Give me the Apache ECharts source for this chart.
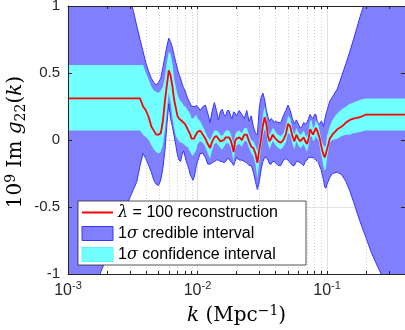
<!DOCTYPE html>
<html>
<head>
<meta charset="utf-8">
<title>Im g22 reconstruction</title>
<script src="https://cdn.jsdelivr.net/npm/echarts@6/dist/echarts.min.js"></script>
<style>
html, body { margin: 0; padding: 0; background: #fff; }
#main { width: 405px; height: 330px; }
</style>
</head>
<body>
<div id="main"></div>
<script type="text/javascript">
// k (Mpc^-1)
var kVals = [
    0.001, 0.0015, 0.0018, 0.002, 0.0025, 0.003, 0.0032, 0.0034, 0.0036,
    0.0038, 0.004, 0.0042, 0.0044, 0.0046, 0.0048, 0.005, 0.0052, 0.0054, 0.0056, 0.0058,
    0.006, 0.0062, 0.0064, 0.0066, 0.0068, 0.007, 0.0072, 0.0074, 0.0076, 0.0078,
    0.008, 0.0082, 0.0084, 0.0086, 0.0088, 0.009, 0.0092, 0.0094, 0.0096, 0.0098,
    0.01, 0.0105, 0.011, 0.0115, 0.012, 0.0125, 0.013, 0.0135, 0.014, 0.0145,
    0.015, 0.0155, 0.016, 0.0165, 0.017, 0.0175, 0.018, 0.0185, 0.019, 0.0195,
    0.02, 0.021, 0.022, 0.023, 0.024, 0.025, 0.026, 0.027, 0.028, 0.029,
    0.03, 0.031, 0.032, 0.033, 0.034, 0.035, 0.036, 0.037, 0.038, 0.039,
    0.04, 0.042, 0.044, 0.046, 0.048, 0.05, 0.052, 0.054, 0.056, 0.058,
    0.06, 0.062, 0.064, 0.066, 0.068, 0.07, 0.072, 0.074, 0.076, 0.078,
    0.08, 0.082, 0.084, 0.086, 0.088, 0.09, 0.092, 0.094, 0.096, 0.098, 0.1,
    0.105, 0.11, 0.12, 0.13, 0.14, 0.15, 0.16, 0.18, 0.2, 0.22, 0.25, 0.3, 0.35, 0.4
];
// lambda = 100 reconstruction
var recon = [
    0.31, 0.31, 0.31, 0.31, 0.31, 0.31, 0.31, 0.31, 0.31,
    0.25, 0.22, 0.17, 0.10, 0.07, 0.04, 0.04, 0.05, 0.14, 0.29, 0.41,
    0.52, 0.48, 0.40, 0.30, 0.24, 0.18, 0.16, 0.15, 0.14, 0.13,
    0.12, 0.10, 0.08, 0.07, 0.04, 0.01, 0.00, 0.01, 0.03, 0.04,
    0.06, 0.07, 0.04, 0.01, -0.03, -0.06, -0.01, 0.02, 0.03, 0.01,
    -0.01, -0.02, 0.00, 0.02, 0.03, 0.02, 0.00, -0.04, -0.09, -0.01,
    0.01, 0.02, 0.00, 0.04, 0.04, -0.01, -0.05, -0.06, -0.10, -0.17,
    -0.07, 0.01, 0.11, 0.17, 0.12, 0.03, -0.01, 0.01, 0.04, 0.03,
    0.01, -0.01, -0.02, 0.00, 0.04, 0.12, 0.10, 0.03, -0.01, 0.04,
    0.01, -0.01, 0.00, 0.02, -0.01, -0.03, 0.01, 0.08, 0.09, 0.04,
    0.05, 0.09, 0.07, 0.06, 0.01, -0.04, -0.08, -0.11, -0.13, -0.12, -0.07,
    0.01, 0.04, 0.08, 0.10, 0.13, 0.15, 0.16, 0.17, 0.19, 0.19, 0.19, 0.19, 0.19, 0.19
];
// 1 sigma confidence interval
var confUpper = [
    0.56, 0.56, 0.56, 0.56, 0.56, 0.56, 0.56, 0.56, 0.56,
    0.56, 0.50, 0.45, 0.40, 0.37, 0.36, 0.35, 0.37, 0.40, 0.47, 0.58,
    0.66, 0.64, 0.57, 0.46, 0.40, 0.34, 0.31, 0.29, 0.28, 0.26,
    0.25, 0.24, 0.22, 0.21, 0.19, 0.16, 0.16, 0.17, 0.18, 0.19,
    0.16, 0.14, 0.10, 0.06, 0.02, 0.00, 0.04, 0.07, 0.07, 0.06,
    0.04, 0.03, 0.05, 0.07, 0.07, 0.07, 0.05, 0.01, -0.03, 0.04,
    0.06, 0.07, 0.05, 0.09, 0.09, 0.04, 0.00, -0.01, -0.04, -0.08,
    -0.01, 0.07, 0.19, 0.25, 0.18, 0.08, 0.04, 0.06, 0.09, 0.08,
    0.06, 0.04, 0.03, 0.05, 0.10, 0.18, 0.16, 0.08, 0.04, 0.09,
    0.06, 0.04, 0.05, 0.07, 0.04, 0.02, 0.06, 0.14, 0.15, 0.09,
    0.10, 0.15, 0.13, 0.11, 0.06, 0.01, -0.02, -0.04, -0.05, -0.04, 0.03,
    0.10, 0.15, 0.20, 0.23, 0.25, 0.27, 0.28, 0.30, 0.31, 0.31, 0.31, 0.31, 0.31, 0.31
];
var confLower = [
    0.07, 0.07, 0.07, 0.07, 0.07, 0.07, 0.07, 0.07, 0.07,
    0.04, 0.02, 0.00, -0.04, -0.07, -0.09, -0.10, -0.09, -0.04, 0.07, 0.21,
    0.35, 0.28, 0.17, 0.09, 0.03, 0.01, -0.01, -0.02, -0.02, -0.03,
    -0.04, -0.05, -0.05, -0.07, -0.09, -0.11, -0.12, -0.10, -0.09, -0.07,
    -0.03, -0.01, -0.02, -0.05, -0.10, -0.14, -0.07, -0.03, -0.02, -0.04,
    -0.06, -0.07, -0.05, -0.03, -0.02, -0.03, -0.05, -0.10, -0.17, -0.07,
    -0.04, -0.03, -0.05, -0.01, -0.01, -0.06, -0.10, -0.12, -0.18, -0.29,
    -0.16, -0.05, 0.03, 0.08, 0.05, -0.03, -0.07, -0.04, -0.01, -0.02,
    -0.04, -0.06, -0.07, -0.05, -0.02, 0.05, 0.04, -0.03, -0.07, -0.01,
    -0.04, -0.06, -0.05, -0.03, -0.06, -0.09, -0.04, 0.02, 0.03, -0.01,
    0.00, 0.03, 0.01, 0.00, -0.05, -0.11, -0.15, -0.20, -0.23, -0.21, -0.13,
    -0.02, 0.00, 0.01, 0.03, 0.04, 0.04, 0.05, 0.06, 0.07, 0.07, 0.07, 0.07, 0.07, 0.07
];
// 1 sigma credible interval
var credUpper = [
    3.03, 2.31, 1.98, 1.79, 1.40, 1.07, 0.96, 0.85, 0.75,
    0.66, 0.57, 0.51, 0.46, 0.43, 0.41, 0.43, 0.46, 0.54, 0.62, 0.70,
    0.76, 0.73, 0.69, 0.63, 0.58, 0.53, 0.49, 0.46, 0.42, 0.39,
    0.37, 0.34, 0.31, 0.29, 0.27, 0.25, 0.25, 0.25, 0.25, 0.26,
    0.25, 0.22, 0.25, 0.26, 0.20, 0.13, 0.22, 0.28, 0.22, 0.15,
    0.21, 0.23, 0.19, 0.18, 0.22, 0.22, 0.18, 0.16, 0.21, 0.20,
    0.18, 0.22, 0.19, 0.16, 0.22, 0.14, 0.18, 0.10, 0.05, 0.04,
    0.24, 0.32, 0.35, 0.30, 0.22, 0.17, 0.14, 0.16, 0.15, 0.13,
    0.14, 0.13, 0.13, 0.18, 0.22, 0.26, 0.22, 0.16, 0.12, 0.15,
    0.12, 0.09, 0.10, 0.13, 0.12, 0.13, 0.16, 0.19, 0.17, 0.16,
    0.19, 0.19, 0.14, 0.12, 0.12, 0.14, 0.13, 0.10, 0.15, 0.19, 0.22,
    0.29, 0.32, 0.38, 0.48, 0.57, 0.66, 0.75, 0.92, 1.06, 1.19, 1.37, 1.62, 1.84, 2.01
];
var credLower = [
    -1.60, -1.18, -0.98, -0.87, -0.63, -0.43, -0.37, -0.31, -0.19,
    -0.10, -0.14, -0.19, -0.24, -0.30, -0.33, -0.34, -0.30, -0.21, -0.08, 0.11,
    0.27, 0.16, 0.10, 0.03, -0.04, -0.11, -0.15, -0.16, -0.11, -0.08,
    -0.12, -0.16, -0.19, -0.22, -0.26, -0.28, -0.30, -0.28, -0.24, -0.19,
    -0.16, -0.10, -0.10, -0.13, -0.18, -0.18, -0.17, -0.16, -0.15, -0.15,
    -0.16, -0.16, -0.17, -0.16, -0.14, -0.14, -0.16, -0.17, -0.19, -0.16,
    -0.13, -0.15, -0.15, -0.16, -0.17, -0.19, -0.19, -0.24, -0.31, -0.37,
    -0.31, -0.22, -0.16, -0.13, -0.13, -0.15, -0.18, -0.18, -0.16, -0.16,
    -0.17, -0.19, -0.19, -0.15, -0.14, -0.15, -0.17, -0.19, -0.19, -0.16,
    -0.16, -0.17, -0.18, -0.19, -0.16, -0.15, -0.13, -0.13, -0.13, -0.13,
    -0.14, -0.15, -0.16, -0.17, -0.20, -0.22, -0.26, -0.30, -0.35, -0.36, -0.33,
    -0.28, -0.25, -0.24, -0.26, -0.31, -0.38, -0.46, -0.61, -0.73, -0.84, -0.96, -1.12, -1.27, -1.40
];
// axis ticks
var decadeTicks = [0.001, 0.01, 0.1];
var minorTicks = [0.002, 0.003, 0.004, 0.005, 0.006, 0.007, 0.008, 0.009,
    0.02, 0.03, 0.04, 0.05, 0.06, 0.07, 0.08, 0.09, 0.2, 0.3];

var kMin = 0.001, kMax = 0.4;
var axisColor = '#262626';
var sans = 'Liberation Sans';
var serif = 'DejaVu Serif';

function pairs(ys) {
    return kVals.map(function (k, i) { return [k, ys[i]]; });
}

// shaded band between lo and hi, drawn as one clipped polygon
function bandSeries(name, lo, hi, fill, edge, z) {
    return {
        type: 'custom',
        name: name,
        silent: true,
        z: z,
        itemStyle: { color: fill },
        data: kVals.map(function (k, i) { return [k, lo[i], hi[i]]; }),
        encode: { x: 0, y: [1, 2] },
        renderItem: function (params, api) {
            if (params.dataIndex !== 0) return null;
            var top = kVals.map(function (k, i) { return api.coord([k, hi[i]]); });
            var bot = kVals.map(function (k, i) { return api.coord([k, lo[i]]); });
            var cs = params.coordSys;
            var children = [{
                type: 'polygon',
                shape: { points: top.concat(bot.slice().reverse()) },
                style: { fill: fill }
            }];
            if (edge) {
                children.push({ type: 'polyline', shape: { points: top },
                    style: { stroke: edge, lineWidth: 1, fill: null } });
                children.push({ type: 'polyline', shape: { points: bot },
                    style: { stroke: edge, lineWidth: 1, fill: null } });
            }
            return {
                type: 'group',
                children: children,
                clipPath: { type: 'rect', shape: { x: cs.x, y: cs.y, width: cs.width, height: cs.height } }
            };
        }
    };
}

var mathRich = {
    n: { fontFamily: serif, fontSize: 20, lineHeight: 24, color: '#000' },
    it: { fontFamily: serif, fontStyle: 'italic', fontSize: 20, lineHeight: 24, color: '#000' },
    sup: { fontFamily: serif, fontSize: 14, lineHeight: 24, verticalAlign: 'top', color: '#000' },
    sub: { fontFamily: serif, fontSize: 14, lineHeight: 24, verticalAlign: 'bottom', color: '#000' }
};

var myChart = echarts.init(document.getElementById('main'), null, { renderer: 'canvas' });

var option = {
    animation: false,
    backgroundColor: '#fff',
    grid: { left: 68, right: 0, top: 6, bottom: 56, outerBoundsMode: 'none', containLabel: false },
    graphic: [{
        // y-axis title
        type: 'text',
        x: 16,
        y: 142,
        rotation: Math.PI / 2,
        z: 20,
        style: {
            text: '{n|10}{sup|9}{n| Im }{it|g}{sub|22}{n|(}{it|k}{n|)}',
            rich: mathRich,
            align: 'center',
            verticalAlign: 'middle'
        }
    }],
    legend: {
        orient: 'vertical',
        left: 78,
        top: 201,
        z: 20,
        selectedMode: false,
        backgroundColor: '#fff',
        borderColor: axisColor,
        borderWidth: 0.8,
        borderRadius: 0,
        padding: [3, 28, 2, 3],
        itemGap: 4,
        itemWidth: 31,
        itemHeight: 14,
        textStyle: {
            fontFamily: sans, fontSize: 16, color: '#000', lineHeight: 17,
            rich: {
                g: { fontFamily: serif, fontStyle: 'italic', fontSize: 16, lineHeight: 17 }
            }
        },
        formatter: function (name) {
            return name.replace('λ', '{g|λ}').replace('σ', '{g|σ}');
        },
        data: [
            { name: 'λ = 100 reconstruction', itemStyle: { opacity: 0 } },
            { name: '1σ credible interval', icon: 'rect',
              itemStyle: { color: '#8080ff', borderColor: '#3535ff', borderWidth: 1 } },
            { name: '1σ confidence interval', icon: 'rect',
              itemStyle: { color: '#72ffff', borderColor: '#5ef2ff', borderWidth: 1 } }
        ]
    },
    xAxis: [
        {   // grid lines, under the data
            type: 'log', min: kMin, max: kMax, z: 0,
            axisLine: { show: false }, axisTick: { show: false }, axisLabel: { show: false },
            splitLine: { show: true, lineStyle: { color: '#e2e2e2', width: 1 } }
        },
        {   // bottom frame with labels
            type: 'log', position: 'bottom', min: kMin, max: kMax, z: 10,
            axisLine: { show: true, onZero: false, lineStyle: { color: axisColor, width: 1 } },
            axisTick: { show: true, inside: true, length: 3, customValues: decadeTicks.concat(minorTicks),
                        lineStyle: { color: axisColor } },
            axisLabel: {
                margin: 6,
                customValues: decadeTicks,
                formatter: function (v) {
                    return '{b|10}{s|' + Math.round(Math.log10(v)) + '}';
                },
                rich: {
                    b: { fontFamily: sans, fontSize: 16, lineHeight: 22, color: axisColor },
                    s: { fontFamily: sans, fontSize: 11, lineHeight: 22, verticalAlign: 'top', color: axisColor }
                }
            },
            splitLine: { show: false },
            name: '{it|k}{n| (Mpc}{sup|−1}{n|)}',
            nameLocation: 'middle',
            nameGap: 42,
            nameRotate: 0,
            nameMoveOverlap: false,
            nameTextStyle: { align: 'center', verticalAlign: 'middle', rich: mathRich }
        },
        {   // top frame
            type: 'log', position: 'top', min: kMin, max: kMax, z: 10,
            axisLine: { show: true, onZero: false, lineStyle: { color: axisColor, width: 1 } },
            axisTick: { show: true, inside: true, length: 3, customValues: decadeTicks.concat(minorTicks),
                        lineStyle: { color: axisColor } },
            axisLabel: { show: false },
            splitLine: { show: false }
        }
    ],
    yAxis: [
        {
            type: 'value', min: -1, max: 1, interval: 0.5, z: 0,
            axisLine: { show: false }, axisTick: { show: false }, axisLabel: { show: false },
            splitLine: { show: true, lineStyle: { color: '#e2e2e2', width: 1 } }
        },
        {
            type: 'value', position: 'left', min: -1, max: 1, interval: 0.5, z: 10,
            axisLine: { show: true, onZero: false, lineStyle: { color: axisColor, width: 1 } },
            axisTick: { show: true, inside: true, length: 4, lineStyle: { color: axisColor } },
            axisLabel: { margin: 8, fontFamily: sans, fontSize: 15, color: axisColor },
            splitLine: { show: false }
        },
        {
            type: 'value', position: 'right', min: -1, max: 1, interval: 0.5, z: 10,
            axisLine: { show: true, onZero: false, lineStyle: { color: axisColor, width: 1 } },
            axisTick: { show: true, inside: true, length: 4, lineStyle: { color: axisColor } },
            axisLabel: { show: false },
            splitLine: { show: false }
        }
    ],
    series: [
        {
            type: 'custom',
            name: 'minorGrid',
            silent: true,
            z: 1,
            data: minorTicks.map(function (k) { return [k, 0]; }),
            renderItem: function (params, api) {
                var p0 = api.coord([api.value(0), 1]);
                var p1 = api.coord([api.value(0), -1]);
                var x = Math.round(p0[0]) + 0.5;
                return {
                    type: 'line',
                    shape: { x1: x, y1: p0[1], x2: x, y2: p1[1] },
                    style: { stroke: '#cdcdcd', lineWidth: 1, lineDash: [1, 2] }
                };
            }
        },
        bandSeries('1σ credible interval', credLower, credUpper, '#8080ff', '#3535ff', 2),
        bandSeries('1σ confidence interval', confLower, confUpper, '#72ffff', null, 3),
        {
            type: 'line', name: 'λ = 100 reconstruction', data: pairs(recon),
            symbol: 'none', showSymbol: false, silent: true, z: 4,
            itemStyle: { color: '#ff0000' },
            lineStyle: { color: '#ff0000', width: 1.8 }
        }
    ]
};

myChart.setOption(option);
</script>
</body>
</html>
